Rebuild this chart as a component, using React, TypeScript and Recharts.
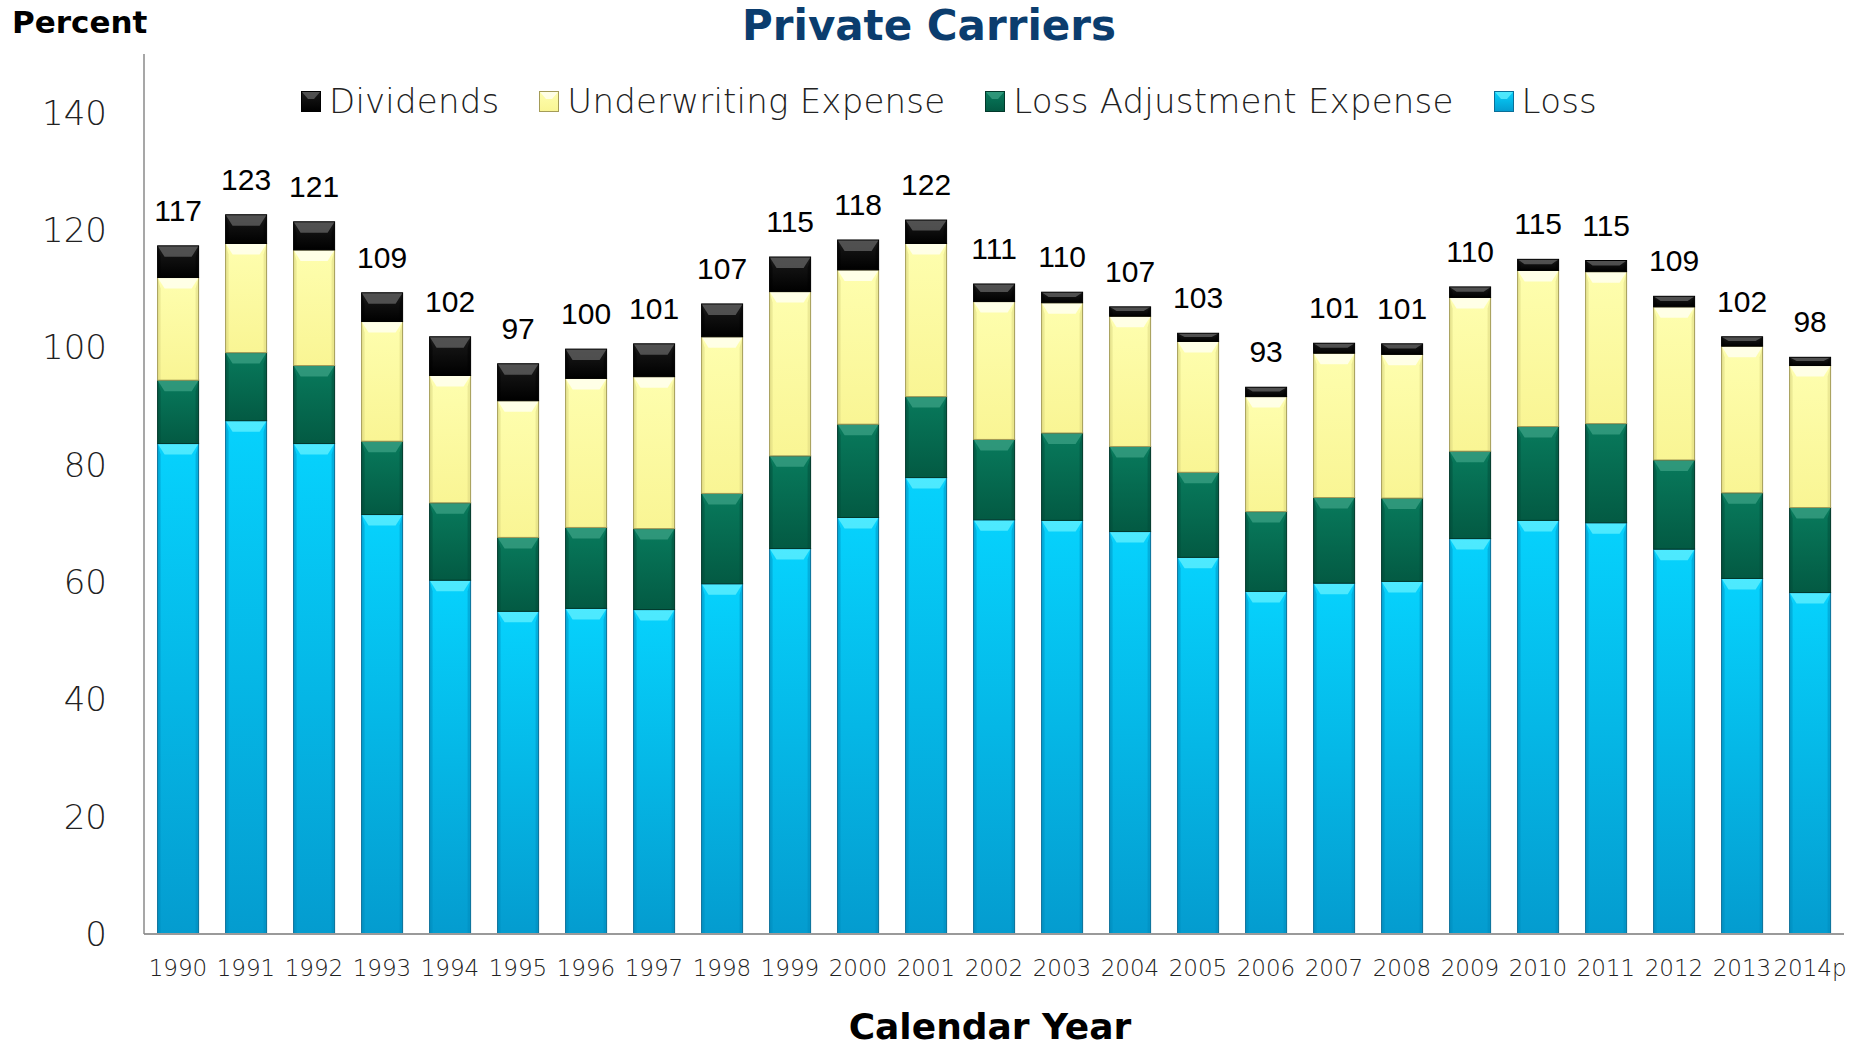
import React from 'react';
import { BarChart, Bar, XAxis, YAxis, LabelList } from 'recharts';

const years = ['1990', '1991', '1992', '1993', '1994', '1995', '1996', '1997', '1998', '1999', '2000', '2001', '2002', '2003', '2004', '2005', '2006', '2007', '2008', '2009', '2010', '2011', '2012', '2013', '2014p'];
const loss = [83.6, 87.5, 83.6, 71.5, 60.3, 55.0, 55.5, 55.3, 59.7, 65.7, 71.0, 77.8, 70.6, 70.5, 68.6, 64.2, 58.4, 59.8, 60.1, 67.4, 70.5, 70.1, 65.6, 60.6, 58.2];
const lossAdjustment = [10.8, 11.6, 13.3, 12.5, 13.2, 12.6, 13.8, 13.8, 15.4, 15.8, 15.9, 13.8, 13.7, 14.9, 14.5, 14.5, 13.6, 14.6, 14.2, 14.9, 16.0, 16.9, 15.2, 14.6, 14.5];
const underwriting = [17.5, 18.6, 19.7, 20.4, 21.7, 23.3, 25.4, 25.9, 26.7, 28.0, 26.3, 26.1, 23.5, 22.2, 22.2, 22.3, 19.6, 24.6, 24.5, 26.2, 26.6, 25.9, 26.1, 25.0, 24.2];
const dividends = [5.4, 4.9, 4.8, 4.9, 6.6, 6.3, 5.0, 5.6, 5.6, 5.9, 5.1, 4.0, 3.0, 1.8, 1.6, 1.4, 1.6, 1.7, 1.8, 1.8, 1.9, 1.9, 1.8, 1.6, 1.4];
const totals = [117, 123, 121, 109, 102, 97, 100, 101, 107, 115, 118, 122, 111, 110, 107, 103, 93, 101, 101, 110, 115, 115, 109, 102, 98];
const yTicks = [0, 20, 40, 60, 80, 100, 120, 140];

const data = years.map((year, i) => ({
  year,
  loss: loss[i],
  lae: lossAdjustment[i],
  underwriting: underwriting[i],
  dividends: dividends[i],
  total: totals[i],
}));

const styles: Record<string, any> = {
  loss: { id: 'gLoss', top: '#06d2fd', bottom: '#049ccf', edge: '#0a6f98', bevel: '#6cf3ff', side: '#0089bb' },
  lae: { id: 'gLae', top: '#087a5c', bottom: '#035a43', edge: '#02382a', bevel: '#3fa488', side: '#024a37' },
  underwriting: { id: 'gUw', top: '#fefeae', bottom: '#f9f594', edge: '#a49c58', bevel: '#ffffff', side: '#d8d27c' },
  dividends: { id: 'gDiv', top: '#1a1a1a', bottom: '#000000', edge: '#000000', bevel: '#6a6a6a', side: '#000000' },
};

// legend is drawn in the reverse order of the stack
const legendItems = [
  { key: 'dividends', name: 'Dividends' },
  { key: 'underwriting', name: 'Underwriting Expense' },
  { key: 'lae', name: 'Loss Adjustment Expense' },
  { key: 'loss', name: 'Loss' },
];

function bevelShape(s: any) {
  return (props: any) => {
    const { x, y, width, height } = props;
    if (!(height > 0)) return <g />;
    const t = Math.min(11, height * 0.45);
    const e = width * 0.17;
    return (
      <g>
        <rect x={x} y={y} width={width} height={height} fill={`url(#${s.id})`} />
        <polygon points={`${x},${y} ${x + 3},${y + t} ${x + 3},${y + height} ${x},${y + height}`} fill={s.side} opacity={0.45} />
        <polygon points={`${x + width},${y} ${x + width - 3},${y + t} ${x + width - 3},${y + height} ${x + width},${y + height}`} fill={s.side} opacity={0.45} />
        <polygon points={`${x},${y} ${x + width},${y} ${x + width - e},${y + t} ${x + e},${y + t}`} fill={s.bevel} opacity={0.7} />
        <rect x={x} y={y} width={width} height={height} fill="none" stroke={s.edge} strokeWidth={1} />
      </g>
    );
  };
}

function LegendIcon({ s }: { s: any }) {
  return (
    <svg width={20} height={21} style={{ display: 'block' }}>
      <rect x={0.5} y={0.5} width={19} height={20} fill={`url(#${s.id})`} stroke={s.edge} />
      <polygon points="1,1 19,1 13,8 7,8" fill={s.bevel} opacity={0.7} />
    </svg>
  );
}

export default function App() {
  const dejavu = '"DejaVu Sans", Verdana, sans-serif';
  return (
    <div style={{ position: 'absolute', left: 0, top: 0, width: 1864, height: 1049, background: '#fff', overflow: 'hidden' }}>
      <svg width={0} height={0} style={{ position: 'absolute' }}>
        <defs>
          {Object.values(styles).map((s: any) => (
            <linearGradient key={s.id} id={s.id} x1="0" y1="0" x2="0" y2="1">
              <stop offset="0%" stopColor={s.top} />
              <stop offset="100%" stopColor={s.bottom} />
            </linearGradient>
          ))}
        </defs>
      </svg>

      <BarChart
        width={1864}
        height={1049}
        data={data}
        margin={{ top: 54, right: 20, bottom: 55, left: 0 }}
        barCategoryGap="20%"
      >
        <XAxis
          dataKey="year"
          interval={0}
          height={60}
          tickLine={false}
          tickSize={6}
          tickMargin={20}
          axisLine={{ stroke: '#9a9a9a', strokeWidth: 2 }}
          tick={{ fill: '#222', fontSize: 23, fontFamily: dejavu, fontWeight: 200 }}
        />
        <YAxis
          width={144}
          domain={[0, 150]}
          ticks={yTicks}
          interval={0}
          tickLine={false}
          tickSize={6}
          tickMargin={31}
          axisLine={{ stroke: '#8a8a8a', strokeWidth: 1.5 }}
          tick={{ fill: '#222', fontSize: 34, fontFamily: dejavu, fontWeight: 200 }}
        />
        <Bar dataKey="loss" name="Loss" stackId="a" fill={styles.loss.top} shape={bevelShape(styles.loss)} isAnimationActive={false} />
        <Bar dataKey="lae" name="Loss Adjustment Expense" stackId="a" fill={styles.lae.top} shape={bevelShape(styles.lae)} isAnimationActive={false} />
        <Bar dataKey="underwriting" name="Underwriting Expense" stackId="a" fill={styles.underwriting.top} shape={bevelShape(styles.underwriting)} isAnimationActive={false} />
        <Bar dataKey="dividends" name="Dividends" stackId="a" fill={styles.dividends.top} shape={bevelShape(styles.dividends)} isAnimationActive={false}>
          <LabelList dataKey="total" position="top" offset={25} fill="#000" fontSize={30} fontFamily='"Liberation Sans", Arial, sans-serif' />
        </Bar>
      </BarChart>

      <svg width={1864} height={1049} style={{ position: 'absolute', left: 0, top: 0, pointerEvents: 'none' }}>
        <text x={12} y={33} fontFamily={dejavu} fontWeight="bold" fontSize={31} fill="#000">Percent</text>
        <text x={929} y={40} textAnchor="middle" fontFamily={dejavu} fontWeight="bold" fontSize={42} fill="#0b3d6e">
          Private Carriers
        </text>
        <text x={990} y={1039} textAnchor="middle" fontFamily={dejavu} fontWeight="bold" fontSize={36} fill="#000">Calendar Year</text>
      </svg>

      <div
        style={{
          position: 'absolute',
          left: 301,
          top: 81,
          height: 40,
          display: 'flex',
          alignItems: 'center',
          fontFamily: dejavu,
          fontWeight: 200,
          fontSize: 34,
          letterSpacing: 0.2,
          color: '#222',
          whiteSpace: 'nowrap',
        }}
      >
        {legendItems.map((item) => (
          <div key={item.key} style={{ display: 'flex', alignItems: 'center', marginRight: 40 }}>
            <LegendIcon s={styles[item.key]} />
            <span style={{ marginLeft: 8, lineHeight: '40px' }}>{item.name}</span>
          </div>
        ))}
      </div>
    </div>
  );
}
